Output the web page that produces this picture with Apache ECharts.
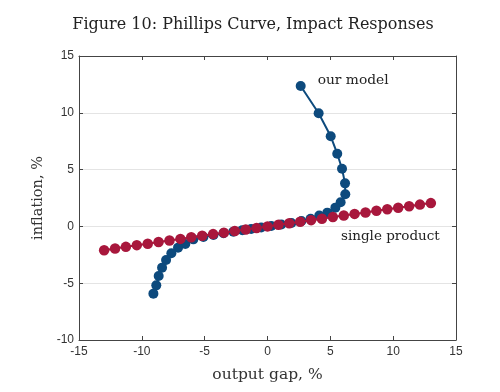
<!DOCTYPE html>
<html>
<head>
<meta charset="utf-8">
<script src="https://cdn.jsdelivr.net/npm/echarts@6/dist/echarts.min.js"></script>
<style>html,body{margin:0;padding:0;background:#fff}#c{width:500px;height:392px}</style>
</head>
<body>
<div id="c"></div>
<script>
// Single product Phillips curve (output gap %, inflation %)
var singleX = [-13, -12.13, -11.27, -10.4, -9.53, -8.67, -7.8, -6.93, -6.07, -5.2, -4.33, -3.47, -2.6, -1.73, -0.87, 0, 0.87, 1.73, 2.6, 3.47, 4.33, 5.2, 6.07, 6.93, 7.8, 8.67, 9.53, 10.4, 11.27, 12.13, 13];
var singleY = [-2.1, -1.95, -1.8, -1.65, -1.52, -1.38, -1.24, -1.1, -0.96, -0.82, -0.68, -0.55, -0.41, -0.27, -0.14, 0, 0.14, 0.27, 0.41, 0.55, 0.68, 0.82, 0.96, 1.1, 1.23, 1.37, 1.51, 1.64, 1.78, 1.92, 2.05];
// Our model
var modelX = [2.64, 4.07, 5.03, 5.55, 5.93, 6.17, 6.19, 5.82, 5.4, 4.76, 4.12, 3.43, 2.7, 1.9, 1.1, 0.3, -0.5, -1.3, -2.0, -2.72, -3.5, -4.3, -5.1, -5.9, -6.54, -7.12, -7.65, -8.07, -8.39, -8.66, -8.85, -9.08];
var modelY = [12.36, 9.96, 7.93, 6.4, 5.08, 3.79, 2.83, 2.12, 1.65, 1.21, 0.95, 0.68, 0.48, 0.3, 0.16, 0.03, -0.1, -0.22, -0.33, -0.46, -0.6, -0.76, -0.94, -1.14, -1.55, -1.87, -2.37, -2.96, -3.63, -4.37, -5.19, -5.92];
var xTicks = [-15, 15, 5];
var yTicks = [-10, 15, 5];
var titleText = 'Figure 10: Phillips Curve, Impact Responses';
var modelLabel = 'our model';
var singleLabel = 'single product';
var xName = 'output gap, %';
var yName = 'inflation, %';

var blue = '#0d4a7d', red = '#a8173c';
var serif = '"DejaVu Serif", serif';
function pairs(xs, ys) { return xs.map(function (x, i) { return [x, ys[i]]; }); }

var modelData = pairs(modelX, modelY).map(function (p, i) {
  if (i === 0) return { value: p, label: { show: true, formatter: modelLabel, position: 'right', distance: 0, offset: [12, -6], fontFamily: serif, fontSize: 13.8, color: '#222' } };
  return p;
});
var singleData = pairs(singleX, singleY).map(function (p, i) {
  if (i === 22) return { value: p, label: { show: true, formatter: singleLabel, position: 'right', distance: 0, offset: [-8, 21], fontFamily: serif, fontSize: 13.5, color: '#222' } };
  return p;
});

var axisLine = { show: true, onZero: false, lineStyle: { color: '#444', width: 1 } };
var axisTick = { show: true, inside: true, length: 4, lineStyle: { color: '#444' } };
var lbl = { color: '#333', fontSize: 12, fontFamily: '"Liberation Sans", Arial, sans-serif' };

var chart = echarts.init(document.getElementById('c'));
chart.setOption({
  animation: false,
  title: { text: titleText, left: 248, top: 12, textAlign: 'center', textStyle: { fontFamily: serif, fontSize: 16, fontWeight: 'normal', color: '#222' } },
  grid: { left: 79, right: 44, top: 56, bottom: 52 },
  xAxis: [
    { type: 'value', min: xTicks[0], max: xTicks[1], interval: xTicks[2], position: 'bottom',
      name: xName, nameLocation: 'middle', nameGap: 27, nameTextStyle: { fontFamily: serif, fontSize: 15.5, color: '#333' },
      axisLine: axisLine, axisTick: axisTick, axisLabel: Object.assign({ margin: 6 }, lbl), splitLine: { show: false } },
    { type: 'value', min: xTicks[0], max: xTicks[1], interval: xTicks[2], position: 'top',
      axisLine: axisLine, axisTick: axisTick, axisLabel: { show: false }, splitLine: { show: false } }
  ],
  yAxis: [
    { type: 'value', min: yTicks[0], max: yTicks[1], interval: yTicks[2], position: 'left',
      name: yName, nameLocation: 'middle', nameGap: 26, nameTextStyle: { fontFamily: serif, fontSize: 14.5, color: '#333' },
      axisLine: axisLine, axisTick: axisTick, axisLabel: Object.assign({ margin: 5 }, lbl),
      splitLine: { show: true, lineStyle: { color: '#e4e4e4', width: 1 } } },
    { type: 'value', min: yTicks[0], max: yTicks[1], interval: yTicks[2], position: 'right',
      axisLine: axisLine, axisTick: axisTick, axisLabel: { show: false }, splitLine: { show: false } }
  ],
  series: [
    { type: 'line', data: modelData, symbol: 'circle', symbolSize: 10, z: 2,
      itemStyle: { color: blue }, lineStyle: { color: blue, width: 2 } },
    { type: 'line', data: singleData, symbol: 'circle', symbolSize: 10.5, z: 3,
      itemStyle: { color: red }, lineStyle: { color: red, width: 2 } }
  ]
});
</script>
</body>
</html>
